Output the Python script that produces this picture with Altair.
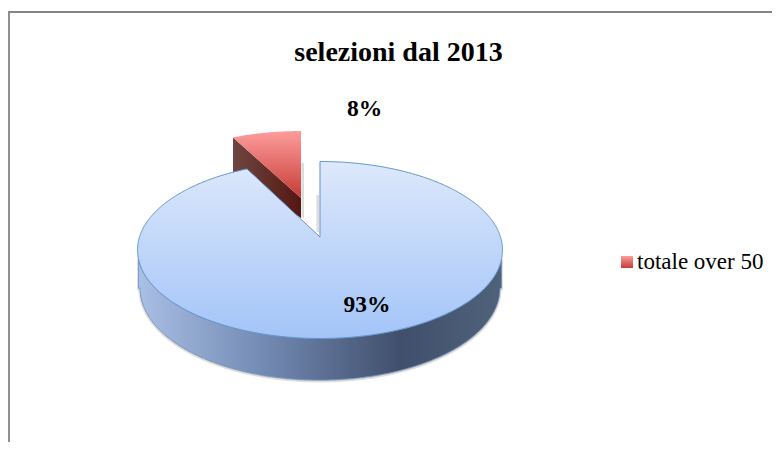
import numpy as np
import pandas as pd
import altair as alt

# ---- chart content ----
title_text = ["selezioni dal 2013"]
percent_labels = ["93%", "8%"]
legend_labels = ["totale over 50"]

# pie geometry in page pixels
cx, cy, rx, ry = 320.0, 250.0, 182.5, 88.5
tip_y = 237.0
notch_x = 247.0            # left end of the gap on the rim
side_cy, side_ry, side_rx = 288.0, 92.0, 180.0   # lower rim of the side wall
red_cx, red_cy, red_rx, red_ry = 301.0, 211.0, 172.0, 80.0
red_left, red_right = 233.0, 301.0
red_tip_y, red_side_drop = 198.0, 20.0
red_left_drop = 35.0

X = alt.X("x:Q", scale=alt.Scale(domain=[8, 772], range=[0, 764]), axis=None)
Y = alt.Y("y:Q", scale=alt.Scale(domain=[442, 8], range=[434, 0]), axis=None)
Y2 = alt.Y2("y2:Q")


def rim(xs, c, r_y, r_x=rx, c_x=cx):
    u = np.clip((xs - c_x) / r_x, -1, 1)
    return c + r_y * np.sqrt(1 - u ** 2)


def rim_top(xs, c, r_y, r_x=rx, c_x=cx):
    return 2 * c - rim(xs, c, r_y, r_x, c_x)


def frame(xs, ys, y2s):
    return pd.DataFrame({"x": xs, "y": ys, "y2": y2s})


def vgrad(a, b):
    return alt.Gradient(gradient="linear", x1=0, x2=0, y1=0, y2=1,
                        stops=[alt.GradientStop(offset=0, color=a),
                               alt.GradientStop(offset=1, color=b)])


t = np.linspace(np.pi, 0, 361)
xs_all = cx + rx * np.cos(t)
xs_wall = cx + (rx - 1) * np.cos(t)

# soft shadow below the side wall
shadow_df = frame(xs_wall, rim(xs_wall, cy, ry), rim(xs_wall, side_cy, side_ry, side_rx) + 1)
shadow = alt.Chart(shadow_df).mark_area(fill="#b5b5b5", stroke="#c4c4c4", strokeWidth=3, strokeOpacity=0.55).encode(
    x=X, y=Y, y2=Y2)

# side wall
side_df = frame(xs_wall, rim(xs_wall, cy, ry), rim(xs_wall, side_cy, side_ry, side_rx))
side_fill = alt.Gradient(
    gradient="linear", x1=0, x2=1, y1=0, y2=0,
    stops=[alt.GradientStop(offset=0, color="#a9bfe4"),
           alt.GradientStop(offset=0.35, color="#7289b2"),
           alt.GradientStop(offset=0.72, color="#404f6c"),
           alt.GradientStop(offset=1, color="#50627a")])
side = alt.Chart(side_df).mark_area(fill=side_fill, stroke="#6f93c4", strokeWidth=0.8).encode(
    x=X, y=Y, y2=Y2)

# blue top face with its gap
left_x = xs_all[xs_all < notch_x]
notch_xs = np.linspace(notch_x, cx - 0.02, 40)
rim_at_notch = rim_top(np.array([notch_x]), cy, ry)[0]
notch_top = rim_at_notch + (notch_xs - notch_x) * (tip_y - rim_at_notch) / (cx - notch_x)
right_x = np.concatenate([[cx], xs_all[xs_all > cx]])
top_xs = np.concatenate([left_x, notch_xs, right_x])
top_ys = np.concatenate([rim_top(left_x, cy, ry), notch_top, rim_top(right_x, cy, ry)])
top_df = frame(top_xs, top_ys, rim(top_xs, cy, ry))
top = alt.Chart(top_df).mark_area(fill=vgrad("#dde8fb", "#a3c4f8"), stroke="#5f93c8", strokeWidth=1).encode(
    x=X, y=Y, y2=Y2)

# exploded red slice
red_xs = np.linspace(red_left, red_right, 40)
red_arc = rim_top(red_xs, red_cy, red_ry, red_rx, red_cx)
red_diag = red_arc[0] + (red_xs - red_left) * (red_tip_y - red_arc[0]) / (red_right - red_left)
red_df = frame(red_xs, red_arc, red_diag)
red_face = alt.Chart(red_df).mark_area(fill=vgrad("#fd9d9c", "#c63b36")).encode(
    x=X, y=Y, y2=Y2)
wall_bottom = red_diag + red_left_drop + (red_side_drop - red_left_drop) * (red_xs - red_left) / (red_right - red_left)
wall_df = frame(red_xs, red_diag, wall_bottom)
wall_fill = alt.Gradient(gradient="linear", x1=0, x2=1, y1=0, y2=0,
                         stops=[alt.GradientStop(offset=0, color="#6e463f"),
                                alt.GradientStop(offset=1, color="#541712")])
red_wall = alt.Chart(wall_df).mark_area(fill=wall_fill).encode(x=X, y=Y, y2=Y2)

# faint shadows beside the gap
gap_shadow_df = pd.DataFrame({"x": [301.5, 316.5], "x2": [304.0, 319.0], "y": [163.0, 195.0], "y2": [218.0, 232.0]})
gap_shadow = alt.Chart(gap_shadow_df).mark_rect(fill="#d4d4d4", opacity=0.8).encode(
    x=X, x2=alt.X2("x2:Q"), y=Y, y2=Y2)

# frame lines on the left and top of the page
border_left = alt.Chart(pd.DataFrame({"a": [0]})).mark_rule(color="#8f8f8f", strokeWidth=2).encode(
    x=alt.value(1), y=alt.value(4), y2=alt.value(434))
border_top = alt.Chart(pd.DataFrame({"a": [0]})).mark_rule(color="#858585", strokeWidth=2).encode(
    x=alt.value(0), x2=alt.value(764), y=alt.value(4))

# texts
FONT = "Liberation Serif"
title_df = pd.DataFrame({"x": [398.5], "y": [53.0], "t": title_text})
title = alt.Chart(title_df).mark_text(font=FONT, fontWeight="bold", fontSize=28, color="#000000",
                                      align="center", baseline="middle").encode(x=X, y=Y, text="t:N")
lab_df = pd.DataFrame({"x": [367.0, 364.5], "y": [305.0, 109.0], "t": percent_labels})
labs = alt.Chart(lab_df).mark_text(font=FONT, fontWeight="bold", fontSize=23.5, color="#000000",
                                   align="center", baseline="middle").encode(x=X, y=Y, text="t:N")
leg_df = pd.DataFrame({"x": [637.0], "y": [262.0], "t": legend_labels})
leg_text = alt.Chart(leg_df).mark_text(font=FONT, fontSize=23, color="#000000",
                                       align="left", baseline="middle").encode(x=X, y=Y, text="t:N")
swatch_df = pd.DataFrame({"x": [621.0], "x2": [633.0], "y": [256.0], "y2": [268.0]})
swatch = alt.Chart(swatch_df).mark_rect(fill=vgrad("#fd9d9c", "#c63b36")).encode(
    x=X, x2=alt.X2("x2:Q"), y=Y, y2=Y2)

chart = alt.layer(border_left, border_top, gap_shadow, red_wall, red_face, shadow, side, top,
                  title, labs, leg_text, swatch).properties(
    width=764, height=434, padding=0, autosize=alt.AutoSizeParams(type="none"),
    background="#ffffff",
).configure_view(stroke=None)

chart.save("out.html", embed_options={"renderer": "svg", "actions": False})
